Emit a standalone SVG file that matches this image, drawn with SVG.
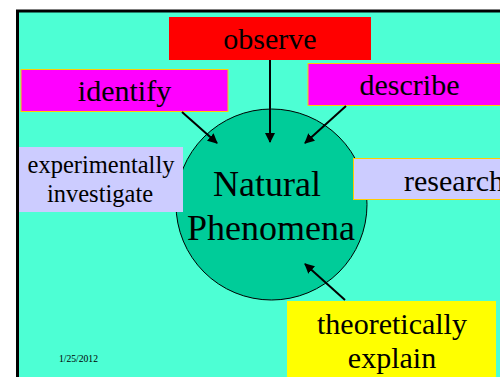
<svg xmlns="http://www.w3.org/2000/svg" width="500" height="377" viewBox="0 0 500 377" font-family="'Liberation Serif', 'DejaVu Serif', serif">
<style>
text{font-family:'Liberation Serif','DejaVu Serif',serif;fill:#000;text-anchor:middle}
.big{font-size:30px}
.mid{font-size:24.5px}
.huge{font-size:36px}
.con{stroke:#000;stroke-width:2;fill:none;marker-end:url(#ah)}
</style>
<defs>
<marker id="ah" viewBox="0 0 10 10" refX="9" refY="5" markerWidth="5" markerHeight="5" orient="auto" markerUnits="strokeWidth">
<path d="M0,0 L10,5 L0,10 z" fill="#000"/>
</marker>
</defs>
<rect width="500" height="377" fill="#fff"/>
<rect x="17.5" y="11" width="490" height="380" fill="#4DFFD4" stroke="#000" stroke-width="3"/>
<g id="center">
<circle cx="271.5" cy="204.5" r="95.5" fill="#00CC99" stroke="#000" stroke-width="1"/>
<text class="huge" x="267" y="196">Natural</text>
<text class="huge" x="271" y="240">Phenomena</text>
</g>
<g id="observe">
<rect x="169" y="17" width="202" height="43" fill="#FF0000"/>
<text class="big" x="270" y="49">observe</text>
</g>
<g id="identify">
<rect x="21" y="69.5" width="207" height="42" fill="#FF00FF" stroke="#FFCC00" stroke-width="1"/>
<text class="big" x="124.5" y="101">identify</text>
</g>
<g id="describe">
<rect x="308" y="63.5" width="204" height="42" fill="#FF00FF" stroke="#FFCC00" stroke-width="1"/>
<text class="big" x="409.5" y="95">describe</text>
</g>
<g id="experimentally">
<rect x="19" y="147" width="164" height="65" fill="#CCCCFF"/>
<text class="mid" x="101" y="173">experimentally</text>
<text class="mid" x="100" y="202">investigate</text>
</g>
<g id="research">
<rect x="353.5" y="158.5" width="200" height="41" fill="#CCCCFF" stroke="#FFCC00" stroke-width="1"/>
<text class="big" x="454" y="191">research</text>
</g>
<g id="theoretically">
<rect x="287" y="301" width="209" height="80" fill="#FFFF00"/>
<text class="big" x="392" y="334">theoretically</text>
<text class="big" x="392" y="368">explain</text>
</g>
<text style="font-size:9.6px" x="78.5" y="362">1/25/2012</text>
<g id="connectors">
<line class="con" x1="270" y1="60" x2="270" y2="142"/>
<line class="con" x1="182" y1="112" x2="217" y2="143"/>
<line class="con" x1="346" y1="106" x2="305" y2="143"/>
<line class="con" x1="345" y1="300" x2="305" y2="264"/>
</g>
</svg>
